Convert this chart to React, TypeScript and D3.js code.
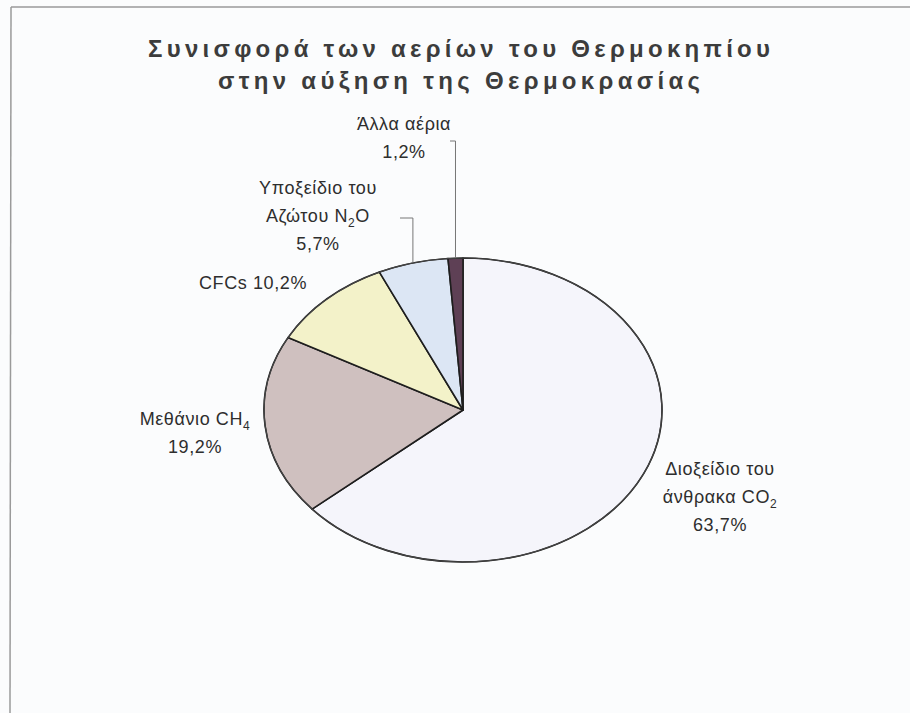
import React from "react";
import * as d3 from "d3";

const categories = ["Διοξείδιο του άνθρακα CO2", "Μεθάνιο CH4", "CFCs", "Υποξείδιο του Αζώτου N2O", "Άλλα αέρια"];
const values = [63.7, 19.2, 10.2, 5.7, 1.2];
const valueLabels = ["63,7%", "19,2%", "10,2%", "5,7%", "1,2%"];
const colors = ["#f5f5fb", "#cfc0bf", "#f3f2c9", "#dce6f4", "#5e4055"];
const titleLines = ["Συνισφορά των αερίων του Θερμοκηπίου", "στην αύξηση της Θερμοκρασίας"];

// label text segments: [text, isSubscript]
type Seg = [string, boolean];
const labelLines: Seg[][][] = [
  [[["Διοξείδιο του", false]], [["άνθρακα CO", false], ["2", true]], [["63,7%", false]]],
  [[["Μεθάνιο CH", false], ["4", true]], [["19,2%", false]]],
  [[["CFCs 10,2%", false]]],
  [[["Υποξείδιο του", false]], [["Αζώτου N", false], ["2", true], ["O", false]], [["5,7%", false]]],
  [[["Άλλα αέρια", false]], [["1,2%", false]]],
];

const W = 910;
const H = 713;
const cx = 463;
const cy = 410;
const rx = 199;
const ry = 152;

// label anchor (center x, first baseline y)
const labelPos: [number, number][] = [
  [720, 475],
  [195, 425],
  [253, 289],
  [318, 194],
  [404, 130],
];
const lineGap = 28;

export default function App() {
  const pie = d3.pie<number>().sort(null).startAngle(0).endAngle(2 * Math.PI);
  const arcs = pie(values);
  const arc = d3.arc<d3.PieArcDatum<number>>().innerRadius(0).outerRadius(rx);

  const edgePoint = (a: d3.PieArcDatum<number>) => {
    const m = (a.startAngle + a.endAngle) / 2;
    return [cx + rx * Math.sin(m), cy - ry * Math.cos(m)];
  };

  // leader lines for N2O (3) and others (4)
  const leaders = [
    { i: 3, hx: 400, hy: 218 },
    { i: 4, hx: 450, hy: 141 },
  ];

  return (
    <div style={{ position: "fixed", left: 0, top: 0, width: W, height: H, background: "#fbfcfd" }}>
      <svg width={W} height={H} style={{ display: "block", fontFamily: "'Liberation Sans', Arial, sans-serif" }}>
        <rect x={0} y={0} width={W} height={H} fill="#fbfcfd" />
        <line x1={11} y1={7} x2={W} y2={7} stroke="#9a9a9a" strokeWidth={1.5} />
        <line x1={11} y1={7} x2={10} y2={H} stroke="#9a9a9a" strokeWidth={1.5} />

        {titleLines.map((t, i) => (
          <text
            key={i}
            x={459}
            y={57 + i * 32}
            textAnchor="middle"
            fontSize={24}
            fontWeight="bold"
            fill="#3c3c3c"
            textLength={i === 0 ? 622 : 482}
            lengthAdjust="spacing"
          >
            {t}
          </text>
        ))}

        <g transform={`translate(${cx},${cy}) scale(1,${ry / rx})`}>
          {arcs.map((a, i) => (
            <path
              key={i}
              d={arc(a) || ""}
              fill={colors[i]}
              stroke="#1e1e1e"
              strokeWidth={1.6}
              vectorEffect="non-scaling-stroke"
              strokeLinejoin="round"
            />
          ))}
          <ellipse cx={0} cy={0} rx={rx} ry={rx} fill="none" stroke="#444" strokeWidth={1.2} vectorEffect="non-scaling-stroke" />
        </g>

        {leaders.map(({ i, hx, hy }) => {
          const [ex, ey] = edgePoint(arcs[i]);
          return (
            <polyline
              key={i}
              points={`${hx},${hy} ${ex},${hy} ${ex},${ey}`}
              fill="none"
              stroke="#777"
              strokeWidth={1}
            />
          );
        })}

        {labelLines.map((lines, i) => (
          <g key={i}>
            {lines.map((segs, j) => (
              <text
                key={j}
                x={labelPos[i][0]}
                y={labelPos[i][1] + j * lineGap}
                textAnchor="middle"
                fontSize={18}
                letterSpacing={0.6}
                fill="#2e2e2e"
              >
                {segs.map(([s, sub], k) =>
                  sub ? (
                    <tspan key={k} fontSize={12} dy={5}>
                      {s}
                    </tspan>
                  ) : (
                    <tspan key={k} dy={k > 0 && segs[k - 1][1] ? -5 : 0}>
                      {s}
                    </tspan>
                  )
                )}
              </text>
            ))}
          </g>
        ))}
      </svg>
    </div>
  );
}
